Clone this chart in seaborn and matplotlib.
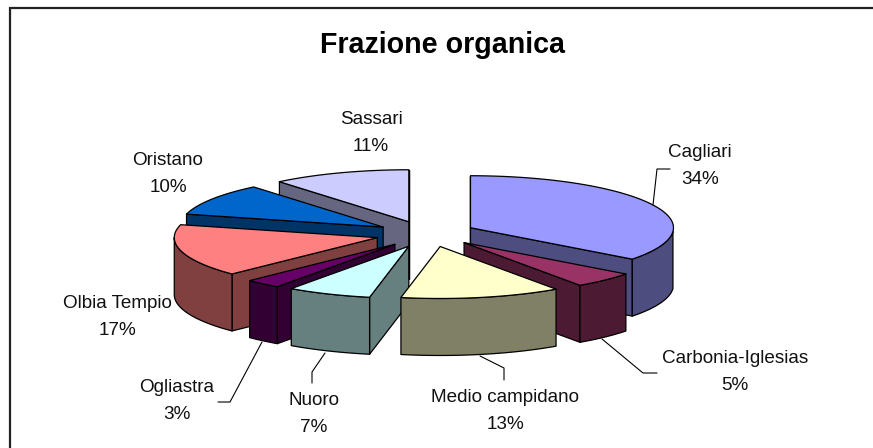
import numpy as np
import matplotlib
matplotlib.use("Agg")
import matplotlib.pyplot as plt
from matplotlib.colors import to_rgb
import seaborn as sns

# ---- data -------------------------------------------------------------
TITLE = "Frazione organica"
categories = ["Cagliari", "Carbonia-Iglesias", "Medio campidano", "Nuoro",
              "Ogliastra", "Olbia Tempio", "Oristano", "Sassari"]
values = [34, 5, 13, 7, 3, 17, 10, 11]
slice_colors = ["#9999FF", "#993366", "#FFFFCC", "#CCFFFF",
                "#660066", "#FF8080", "#0066CC", "#CCCCFF"]

# ---- layout (pixels of the 873x448 canvas) ------------------------------
CX, CY = 426.0, 234.0      # pie centre
RX, RY = 203.0, 52.0       # projected radii
EXPLODE = 0.25             # explosion, fraction of the radius
DEPTH = 57.0               # thickness of the pie
WARP = 4.8                 # perspective shift of the near side, degrees
label_centres = [(700, 166), (735, 372), (505, 411), (314, 414),
                 (177, 401), (117, 317), (168, 174), (371, 133)]
LINE_GAP = 13.5
leaders = {"Cagliari": [(653, 205), (657, 169), (670, 169)],
           "Carbonia-Iglesias": [(602, 339), (643, 373), (657, 373)],
           "Medio campidano": [(480, 356), (504, 368), (504, 380)],
           "Nuoro": [(325, 353), (312, 372), (312, 383)],
           "Ogliastra": [(262, 342), (230, 402), (218, 402)]}

sns.set_theme(style="white")
plt.rcParams["font.family"] = ["Liberation Sans", "DejaVu Sans"]

fig = plt.figure(figsize=(8.73, 4.48), dpi=100, facecolor="white")
ax = fig.add_axes([0, 0, 1, 1])
ax.set_xlim(0, 873)
ax.set_ylim(448, 0)
ax.axis("off")


def warped(theta):
    theta = np.asarray(theta, dtype=float)
    shift = np.where(theta < 1.5 * np.pi, np.sin(theta * 2 / 3), 0.0)
    return theta + np.radians(WARP) * shift


def rim(theta, ox, oy):
    t = warped(theta)
    return ox + RX * np.sin(t), oy - RY * np.cos(t)


palette = sns.color_palette(slice_colors)
total = sum(values)
edges = np.radians(np.concatenate([[0], np.cumsum(values)]) / total * 360)

slices = []
for i, name in enumerate(categories):
    t0, t1 = edges[i], edges[i + 1]
    mid = (t0 + t1) / 2
    slices.append((-np.cos(mid), i, t0, t1, mid))

for z, (_, i, t0, t1, mid) in enumerate(sorted(slices)):
    top = palette[i]
    side = tuple(c / 2 for c in to_rgb(top))
    ox = CX + EXPLODE * RX * np.sin(mid)
    oy = CY - EXPLODE * RY * np.cos(mid)
    style = dict(edgecolor="black", linewidth=0.9, joinstyle="round", zorder=10 + z)

    # radial faces, only those turned towards the viewer
    for t, normal in ((t0, t0 - np.pi / 2), (t1, t1 + np.pi / 2)):
        if np.cos(normal) < 1e-6:
            ex, ey = rim(t, ox, oy)
            ax.fill([ox, ex, ex, ox], [oy, ey, ey + DEPTH, oy + DEPTH],
                    facecolor=side, **style)

    # outer wall, near half only
    lo, hi = max(t0, np.pi / 2), min(t1, 3 * np.pi / 2)
    if hi > lo:
        arc = np.linspace(lo, hi, 60)
        wx, wy = rim(arc, ox, oy)
        ax.fill(np.r_[wx, wx[::-1]], np.r_[wy, wy[::-1] + DEPTH],
                facecolor=side, **style)

    # top face
    arc = np.linspace(t0, t1, 120)
    tx, ty = rim(arc, ox, oy)
    ax.fill(np.r_[ox, tx], np.r_[oy, ty], facecolor=top, **style)

# labels and leaders
for name, value, (lx, ly) in zip(categories, values, label_centres):
    ax.text(lx, ly - LINE_GAP, name, ha="center", va="center",
            fontsize=13.6, color="#111111", zorder=50)
    ax.text(lx, ly + LINE_GAP, f"{value}%", ha="center", va="center",
            fontsize=13.6, color="#111111", zorder=50)
    if name in leaders:
        xs, ys = zip(*leaders[name])
        ax.plot(xs, ys, color="black", lw=0.8, zorder=40)

ax.text(443, 45, TITLE, ha="center", va="center", fontsize=20.6,
        fontweight="bold", color="black", zorder=50)

# chart frame: only top and left are inside the crop
ax.plot([10, 10, 873], [448, 8, 8], color="#222222", lw=1.6, zorder=60,
        solid_joinstyle="miter")

fig.savefig("out.png", dpi=100)
